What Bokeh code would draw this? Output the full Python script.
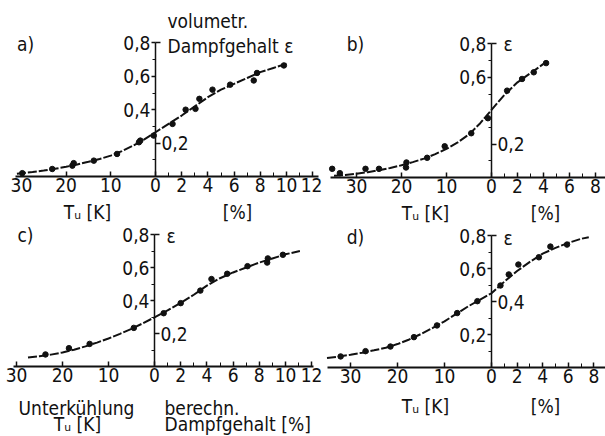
from bokeh.plotting import figure
from bokeh.layouts import row, column
from bokeh.models import Range1d, LinearAxis, FixedTicker
from bokeh.core.properties import value
from bokeh.embed import file_html
from bokeh.resources import INLINE

FONT = "DejaVu Sans Condensed"
FS = "19px"
INK = "#111111"

# ---------------- data ----------------
# panel a
a_curve_K = [31, 27.5, 25, 22.5, 20, 17.5, 15, 12.5, 10, 7.5, 5, 2.5, 0]
a_curve_K_eps = [0.016, 0.027, 0.036, 0.046, 0.058, 0.072, 0.088, 0.105, 0.125, 0.152, 0.185, 0.222, 0.265]
a_curve_pct = [0, 1, 2, 3, 4, 5, 6, 7, 8, 9, 10]
a_curve_pct_eps = [0.265, 0.315, 0.365, 0.42, 0.475, 0.52, 0.555, 0.59, 0.625, 0.65, 0.675]
a_pts_K = [29.8, 23.1, 18.6, 18.3, 13.8, 8.6, 3.7, 3.4, 0.4]
a_pts_K_eps = [0.02, 0.045, 0.065, 0.08, 0.095, 0.135, 0.205, 0.215, 0.245]
a_pts_pct = [1.3, 2.3, 3.05, 3.35, 4.35, 5.7, 7.5, 7.75, 9.8]
a_pts_pct_eps = [0.315, 0.40, 0.405, 0.465, 0.52, 0.55, 0.575, 0.62, 0.665]

# panel b
b_curve_K = [35, 32.5, 30, 27.5, 25, 22.5, 20, 17.5, 15, 12.5, 10, 7.5, 5, 2.5, 0]
b_curve_K_eps = [0.01, 0.015, 0.022, 0.032, 0.043, 0.057, 0.073, 0.092, 0.113, 0.14, 0.172, 0.21, 0.258, 0.325, 0.405]
b_curve_pct = [0, 1, 2, 3, 4]
b_curve_pct_eps = [0.405, 0.495, 0.57, 0.625, 0.68]
b_pts_K = [35.4, 33.7, 28, 25, 18.9, 19.0, 14.3, 10.4, 4.5, 0.8]
b_pts_K_eps = [0.052, 0.026, 0.052, 0.052, 0.09, 0.06, 0.118, 0.187, 0.265, 0.355]
b_pts_pct = [1.2, 2.35, 3.25, 4.2]
b_pts_pct_eps = [0.52, 0.59, 0.63, 0.685]

# panel c
c_curve_K = [27.5, 25, 22.5, 20, 17.5, 15, 12.5, 10, 7.5, 5, 2.5, 0]
c_curve_K_eps = [0.055, 0.062, 0.072, 0.085, 0.102, 0.122, 0.145, 0.17, 0.198, 0.228, 0.262, 0.298]
c_curve_pct = [0, 1, 2, 3, 4, 5, 6, 7, 8, 9, 10, 11.1]
c_curve_pct_eps = [0.298, 0.34, 0.385, 0.435, 0.49, 0.535, 0.57, 0.6, 0.63, 0.655, 0.68, 0.70]
c_pts_K = [23.7, 18.6, 14.1, 4.5]
c_pts_K_eps = [0.073, 0.111, 0.137, 0.234]
c_pts_pct = [0.7, 2.0, 3.5, 4.35, 5.55, 7.1, 8.6, 8.65, 9.8]
c_pts_pct_eps = [0.323, 0.384, 0.46, 0.53, 0.562, 0.608, 0.63, 0.655, 0.677]

# panel d
d_curve_K = [35, 32.5, 30, 27.5, 25, 22.5, 20, 17.5, 15, 12.5, 10, 7.5, 5, 2.5, 0]
d_curve_K_eps = [0.058, 0.066, 0.077, 0.09, 0.104, 0.12, 0.142, 0.17, 0.203, 0.24, 0.28, 0.325, 0.37, 0.41, 0.45]
d_curve_pct = [0, 1, 2, 3, 4, 5, 6, 7, 7.6]
d_curve_pct_eps = [0.45, 0.52, 0.585, 0.64, 0.69, 0.725, 0.755, 0.78, 0.79]
d_pts_K = [32.1, 26.8, 21.5, 16.5, 11.6, 7.3, 3.0]
d_pts_K_eps = [0.067, 0.099, 0.127, 0.184, 0.255, 0.33, 0.402]
d_pts_pct = [0.7, 1.35, 2.1, 3.7, 4.6, 5.9]
d_pts_pct_eps = [0.497, 0.564, 0.624, 0.668, 0.733, 0.745]

# tick labels
K_ticks = [30, 20, 10, 0]
pct_ticks_wide = [2, 4, 6, 8, 10, 12]
pct_ticks_narrow = [2, 4, 6, 8]
eps_minor = [0.1, 0.3, 0.5, 0.7]

TOP_H = 224
BOT_H = 436 - TOP_H


def label(v):
    return ("%g" % v).replace(".", ",")


def panel(W, H, x0, sk, sp, y0, sy, xb, curve, pts, pct_ticks, left_eps, right_eps, texts):
    k = sp / sk  # K-units per percent
    X = lambda px: (px - x0) / sk
    Y = lambda py: (y0 - py) / sy
    p = figure(width=W, height=H, x_range=Range1d(X(0), X(W)), y_range=Range1d(Y(H), Y(0)),
               output_backend="svg", toolbar_location=None, x_axis_type=None, y_axis_type=None,
               min_border=0, outline_line_color=None)
    p.background_fill_color = "white"

    cK, cKe, cP, cPe = curve
    xs = [-v for v in cK] + [v * k for v in cP]
    ys = list(cKe) + list(cPe)
    p.line(xs, ys, line_width=2, color=INK, line_dash="9 2")
    pK, pKe, pP, pPe = pts
    p.scatter([-v for v in pK] + [v * k for v in pP], list(pKe) + list(pPe), size=5.5, color=INK)

    # x axis (temperature side + percent side)
    majors = [-float(t) for t in K_ticks] + [t * k for t in pct_ticks]
    minors = [t * k for t in range(1, max(pct_ticks) + 1)]
    over = {-float(t): str(t) for t in K_ticks}
    over.update({t * k: str(t) for t in pct_ticks})
    xa = LinearAxis(fixed_location=0, ticker=FixedTicker(ticks=majors, minor_ticks=minors),
                    major_label_overrides=over, bounds=(X(xb[0]), X(xb[1])),
                    major_tick_in=5, major_tick_out=0, minor_tick_in=4, minor_tick_out=0,
                    axis_line_width=2, axis_line_color=INK, major_tick_line_color=INK,
                    minor_tick_line_color=INK, major_tick_line_width=1.5,
                    major_label_text_font=FONT, major_label_text_font_size=FS,
                    major_label_text_color=INK, major_label_standoff=1)
    p.add_layout(xa, "below")

    ya = LinearAxis(fixed_location=0, ticker=FixedTicker(ticks=left_eps, minor_ticks=eps_minor),
                    major_label_overrides={v: label(v) for v in left_eps}, bounds=(0, 0.8),
                    major_tick_in=0, major_tick_out=4, minor_tick_in=0, minor_tick_out=3,
                    axis_line_width=1.5, axis_line_color=INK, major_tick_line_color=INK,
                    minor_tick_line_color=INK, major_tick_line_width=1.5,
                    major_label_text_font=FONT, major_label_text_font_size=FS,
                    major_label_text_color=INK, major_label_standoff=1)
    p.add_layout(ya, "left")
    rt = list(right_eps) + [0.8]
    ro = {v: label(v) for v in right_eps}
    ro[0.8] = ""
    yb = LinearAxis(fixed_location=0, ticker=FixedTicker(ticks=rt),
                    major_label_overrides=ro, axis_line_color=None,
                    major_tick_in=0, major_tick_out=5, minor_tick_line_color=None,
                    major_tick_line_color=INK, major_tick_line_width=1.5,
                    major_label_text_font=FONT, major_label_text_font_size=FS,
                    major_label_text_color=INK, major_label_standoff=1)
    p.add_layout(yb, "right")

    for (tx, ty, t, align) in texts:
        p.text(x=[X(tx)], y=[Y(ty)], text=[t], text_align=align, text_baseline="middle",
               text_font=value(FONT), text_font_size=value(FS), text_color=INK)
    return p


pa = panel(322, TOP_H, 155, 4.47, 13.1, 176, 167, (15, 318),
           (a_curve_K, a_curve_K_eps, a_curve_pct, a_curve_pct_eps),
           (a_pts_K, a_pts_K_eps, a_pts_pct, a_pts_pct_eps),
           pct_ticks_wide, [0.4, 0.6, 0.8], [0.2],
           [(25, 43, "a)", "center"), (167, 20, "volumetr.", "left"),
            (167, 45, "Dampfgehalt ε", "left"),
            (87, 211, "Tᵤ [K]", "center"), (237, 211, "[%]", "center")])

pb = panel(283, TOP_H, 169, 4.5, 13.0, 177, 167, (8, 283),
           (b_curve_K, b_curve_K_eps, b_curve_pct, b_curve_pct_eps),
           (b_pts_K, b_pts_K_eps, b_pts_pct, b_pts_pct_eps),
           pct_ticks_narrow, [0.6, 0.8], [0.2],
           [(33, 43, "b)", "center"), (181, 43, "ε", "left"),
            (103, 212, "Tᵤ [K]", "center"), (223, 212, "[%]", "center")])

off = TOP_H
pc = panel(322, BOT_H, 154, 4.6, 13.1, 366 - off, 165, (13, 313),
           (c_curve_K, c_curve_K_eps, c_curve_pct, c_curve_pct_eps),
           (c_pts_K, c_pts_K_eps, c_pts_pct, c_pts_pct_eps),
           pct_ticks_wide, [0.4, 0.6, 0.8], [0.2],
           [(25, 234 - off, "c)", "center"), (166, 235 - off, "ε", "left"),
            (76, 407 - off, "Unterkühlung", "center"), (77, 423 - off, "Tᵤ [K]", "center"),
            (164, 407 - off, "berechn.", "left"), (164, 423 - off, "Dampfgehalt [%]", "left")])

pd_ = panel(283, BOT_H, 169, 4.7, 12.8, 367 - off, 165, (5, 283),
            (d_curve_K, d_curve_K_eps, d_curve_pct, d_curve_pct_eps),
            (d_pts_K, d_pts_K_eps, d_pts_pct, d_pts_pct_eps),
            pct_ticks_narrow, [0.2, 0.6, 0.8], [0.4],
            [(33, 236 - off, "d)", "center"), (181, 237 - off, "ε", "left"),
             (103, 405 - off, "Tᵤ [K]", "center"), (223, 405 - off, "[%]", "center")])

layout = column(row(pa, pb), row(pc, pd_))
open("out.html", "w").write(file_html(layout, INLINE))
